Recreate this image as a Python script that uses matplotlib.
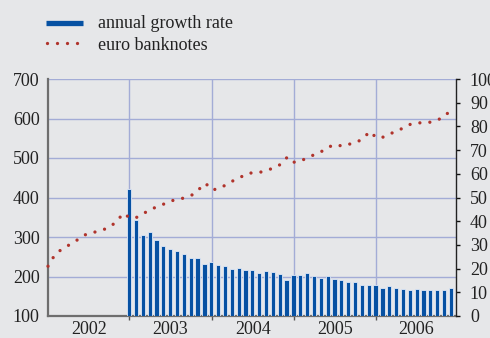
import matplotlib
matplotlib.use("Agg")
import matplotlib.pyplot as plt
from matplotlib.lines import Line2D
import numpy as np

plt.rcParams['font.family'] = ['Liberation Serif', 'DejaVu Serif']

years = ['2002', '2003', '2004', '2005', '2006']

# euro banknotes in circulation (EUR billions), monthly Jan 2002 - Dec 2006
banknotes = [226, 255, 269, 279, 289, 302, 310, 313, 318, 325, 339, 360,
             348, 350, 360, 370, 377, 384, 392, 394, 400, 406, 420, 436,
             419, 423, 432, 442, 450, 460, 463, 464, 469, 475, 484, 503,
             489, 493, 502, 509, 517, 528, 534, 530, 535, 539, 549, 567,
             551, 553, 561, 570, 576, 586, 589, 589, 591, 597, 606, 626]

# annual growth rate (%), monthly Jan 2003 - Dec 2006
growth = [53.6, 40.5, 34.0, 35.4, 32.2, 29.5, 28.4, 27.4, 26.2, 24.6, 24.6, 22.1,
          22.9, 21.6, 21.0, 19.7, 20.3, 19.4, 19.2, 18.3, 18.8, 18.7, 17.9, 15.4,
          17.4, 17.2, 18.1, 17.0, 15.9, 16.9, 15.6, 15.2, 14.5, 14.2, 13.1, 12.9,
          13.1, 11.8, 12.7, 11.8, 11.3, 11.0, 11.4, 11.1, 11.1, 11.1, 11.1, 11.7]

left_ticks = [100, 200, 300, 400, 500, 600, 700]
right_ticks = [0, 10, 20, 30, 40, 50, 60, 70, 80, 90, 100]

bg = '#e6e7e9'
grid_c = '#a3acd6'
blue = '#0651a3'
red = '#b0342c'
dotstyle = (0, (0.001, 3.0))

fig = plt.figure(figsize=(4.9, 3.38), dpi=100, facecolor=bg)
pos = [48/490, 22/338, 408/490, 237/338]
ax = fig.add_axes(pos)
ax.set_facecolor(bg)

x_line = np.arange(len(banknotes))
x_bar = np.arange(12, 12 + len(growth)) - 0.15
boundaries = [12 * k - 0.1 for k in range(1, 5)]
edges = [0] + boundaries + [59.6]
mids = [(edges[k] + edges[k + 1]) / 2 for k in range(len(years))]

ax.set_xlim(0, 59.6)
ax.set_ylim(100, 700)
ax.set_yticks(left_ticks)
ax.set_yticklabels([str(v) for v in left_ticks], fontsize=13, color='#222222')
ax.tick_params(axis='y', length=0, pad=6)
for v in left_ticks[1:]:
    ax.axhline(v, color=grid_c, lw=1.0, zorder=0)
for b in boundaries:
    ax.axvline(b, color=grid_c, lw=1.0, zorder=0)
ax.set_xticks(boundaries)
ax.set_xticklabels([])
ax.set_xticks(mids, minor=True)
ax.set_xticklabels(years, minor=True, fontsize=13, color='#222222')
ax.tick_params(axis='x', which='major', length=3, width=1, direction='out', color='#555555')
ax.tick_params(axis='x', which='minor', length=0, pad=3.5)
for s in ['top', 'right']:
    ax.spines[s].set_visible(False)
ax.spines['left'].set_color('#6e6e6e')
ax.spines['left'].set_linewidth(1.6)
ax.spines['bottom'].set_color('#6e6e6e')
ax.spines['bottom'].set_linewidth(1.6)

# growth bars on right axis
axb = ax.twinx()
axb.set_ylim(0, 100)
axb.set_xlim(0, 59.6)
axb.bar(x_bar, growth, width=0.62, color=blue, edgecolor='#dfe8f7', linewidth=0.6, zorder=2)
axb.set_yticks(right_ticks)
axb.set_yticklabels([str(v) for v in right_ticks], fontsize=13, color='#222222')
axb.tick_params(axis='y', length=3, width=1, direction='out', pad=7, color='#111111')
for s in ['top', 'left', 'bottom']:
    axb.spines[s].set_visible(False)
axb.spines['right'].set_color('#222222')
axb.spines['right'].set_linewidth(1.0)

# banknotes line on top
axl = ax.twinx()
axl.set_ylim(100, 700)
axl.set_xlim(0, 59.6)
axl.plot(x_line, banknotes, color=red, lw=2.4, linestyle=dotstyle,
         dash_capstyle='round', clip_on=False)
axl.set_yticks([])
for s in axl.spines.values():
    s.set_visible(False)

# legend
fig.add_artist(Line2D([46/490, 83/490], [1 - 23/338, 1 - 23/338], color=blue, lw=3.8,
                      solid_capstyle='butt', transform=fig.transFigure))
fig.add_artist(Line2D([47/490, 84/490], [1 - 43/338, 1 - 43/338], color=red, lw=2.4,
                      linestyle=dotstyle, dash_capstyle='round',
                      transform=fig.transFigure))
fig.text(98/490, 1 - 24/338, 'annual growth rate', fontsize=13, color='#222222', va='center', ha='left')
fig.text(98/490, 1 - 45/338, 'euro banknotes', fontsize=13, color='#222222', va='center', ha='left')

fig.savefig('out.png', dpi=100, facecolor=bg)
